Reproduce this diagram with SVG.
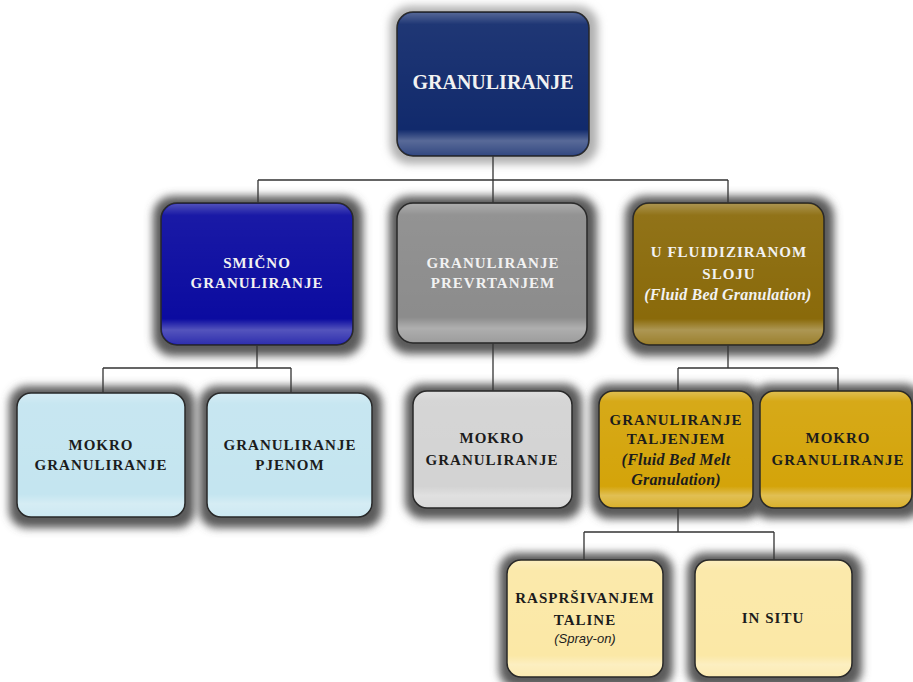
<svg xmlns="http://www.w3.org/2000/svg" width="913" height="682" viewBox="0 0 913 682">
<defs>
<filter id="blur" x="-30%" y="-30%" width="160%" height="160%">
<feGaussianBlur stdDeviation="4"/>
</filter>
<linearGradient id="gloss" x1="0" y1="0" x2="0" y2="1">
<stop offset="0" stop-color="#fff" stop-opacity="0.28"/>
<stop offset="0.08" stop-color="#fff" stop-opacity="0.06"/>
<stop offset="0.82" stop-color="#fff" stop-opacity="0"/>
<stop offset="0.9" stop-color="#fff" stop-opacity="0.3"/>
<stop offset="1" stop-color="#fff" stop-opacity="0.15"/>
</linearGradient>
</defs>
<style>
.box{stroke:#2a2a2a;stroke-width:1.5}
.shd{fill:#5a5a5a;filter:url(#blur)}
.gl{fill:url(#gloss);stroke:none}
.t{font-family:"Liberation Serif","Times New Roman",serif;font-weight:bold;font-size:15px;text-anchor:middle;letter-spacing:1px}
.i{font-style:italic;letter-spacing:0.2px}
.s{font-family:"Liberation Sans",Arial,sans-serif;font-style:italic;font-weight:normal;font-size:13px;letter-spacing:0}
.w{fill:#f2f2f2}
.d{fill:#1c1c1c}
.c{stroke:#333;stroke-width:1.3;fill:none}
</style>
<rect width="913" height="682" fill="#fff"/>
<g id="n-root">
<rect class="shd" x="390" y="6" width="208" height="158" rx="20" style="fill:#b0b0b0"/>
<rect class="box" x="397" y="12" width="192" height="144" rx="16" fill="#112a6c"/>
<rect class="gl" x="398" y="13" width="190" height="142" rx="15"/>
<text class="t w" x="493" y="89" style="font-size:20px;letter-spacing:0">GRANULIRANJE</text>
</g>
<g id="n-smicno">
<rect class="shd" x="153" y="196" width="210" height="160" rx="20"/>
<rect class="box" x="161" y="203" width="192" height="142" rx="16" fill="#0b0ba0"/>
<rect class="gl" x="162" y="204" width="190" height="140" rx="15"/>
<text class="t w" x="257" y="268">SMIČNO</text>
<text class="t w" x="257" y="288">GRANULIRANJE</text>
</g>
<g id="n-prevrtanjem">
<rect class="shd" x="389" y="196" width="208" height="158" rx="20"/>
<rect class="box" x="397" y="203" width="190" height="140" rx="16" fill="#8c8c8c"/>
<rect class="gl" x="398" y="204" width="188" height="138" rx="15"/>
<text class="t w" x="493" y="268">GRANULIRANJE</text>
<text class="t w" x="493" y="288">PREVRTANJEM</text>
</g>
<g id="n-fluid">
<rect class="shd" x="625" y="196" width="209" height="160" rx="20"/>
<rect class="box" x="633" y="203" width="191" height="142" rx="16" fill="#8a6a0a"/>
<rect class="gl" x="634" y="204" width="189" height="140" rx="15"/>
<text class="t w" x="729" y="257">U FLUIDIZIRANOM</text>
<text class="t w" x="729" y="279">SLOJU</text>
<text class="t w i" x="728" y="300" style="font-size:16px">(Fluid Bed Granulation)</text>
</g>
<g id="n-mokro1">
<rect class="shd" x="9" y="386" width="186" height="142" rx="18"/>
<rect class="box" x="17" y="393" width="168" height="124" rx="14" fill="#c4e5f0"/>
<rect class="gl" x="18" y="394" width="166" height="122" rx="13"/>
<text class="t d" x="101" y="450">MOKRO</text>
<text class="t d" x="101" y="470">GRANULIRANJE</text>
</g>
<g id="n-pjenom">
<rect class="shd" x="199" y="386" width="183" height="142" rx="18"/>
<rect class="box" x="207" y="393" width="165" height="124" rx="14" fill="#c4e5f0"/>
<rect class="gl" x="208" y="394" width="163" height="122" rx="13"/>
<text class="t d" x="290" y="450">GRANULIRANJE</text>
<text class="t d" x="290" y="470">PJENOM</text>
</g>
<g id="n-mokro2">
<rect class="shd" x="405" y="384" width="177" height="135" rx="18"/>
<rect class="box" x="413" y="391" width="159" height="117" rx="14" fill="#d3d3d3"/>
<rect class="gl" x="414" y="392" width="157" height="115" rx="13"/>
<text class="t d" x="492" y="443">MOKRO</text>
<text class="t d" x="492" y="465">GRANULIRANJE</text>
</g>
<g id="n-taljenjem">
<rect class="shd" x="591" y="384" width="172" height="135" rx="18"/>
<rect class="shd" x="752" y="384" width="170" height="135" rx="18"/>
<rect class="box" x="599" y="391" width="154" height="117" rx="14" fill="#d4a40a"/>
<rect class="gl" x="600" y="392" width="152" height="115" rx="13"/>
<text class="t d" x="676" y="425">GRANULIRANJE</text>
<text class="t d" x="676" y="444">TALJENJEM</text>
<text class="t d i" x="676" y="465" style="font-size:16px">(Fluid Bed Melt</text>
<text class="t d i" x="676" y="485" style="font-size:16px">Granulation)</text>
</g>
<g id="n-mokro3">
<rect class="box" x="760" y="391" width="152" height="117" rx="14" fill="#d4a40a"/>
<rect class="gl" x="761" y="392" width="150" height="115" rx="13"/>
<text class="t d" x="838" y="443">MOKRO</text>
<text class="t d" x="838" y="465">GRANULIRANJE</text>
</g>
<g id="n-rasprs">
<rect class="shd" x="499" y="553" width="174" height="135" rx="18"/>
<rect class="box" x="507" y="560" width="156" height="117" rx="14" fill="#fbe8a6"/>
<rect class="gl" x="508" y="561" width="154" height="115" rx="13"/>
<text class="t d" x="585" y="603">RASPRŠIVANJEM</text>
<text class="t d" x="585" y="625">TALINE</text>
<text class="t d s" x="585" y="643">(Spray-on)</text>
</g>
<g id="n-insitu">
<rect class="shd" x="687" y="553" width="175" height="135" rx="18"/>
<rect class="box" x="695" y="560" width="157" height="117" rx="14" fill="#fbe8a6"/>
<rect class="gl" x="696" y="561" width="155" height="115" rx="13"/>
<text class="t d" x="773" y="623">IN SITU</text>
</g>
<g id="connectors">
<path class="c" d="M493 156V180M258 180H728M258 180V203M493 180V203M728 180V203"/>
<path class="c" d="M257 345V368M103 368H291M103 368V393M291 368V393"/>
<path class="c" d="M493 343V391"/>
<path class="c" d="M728 345V368M678 368H838M678 368V391M838 368V391"/>
<path class="c" d="M678 508V532M584 532H774M584 532V560M774 532V560"/>
</g>
</svg>
